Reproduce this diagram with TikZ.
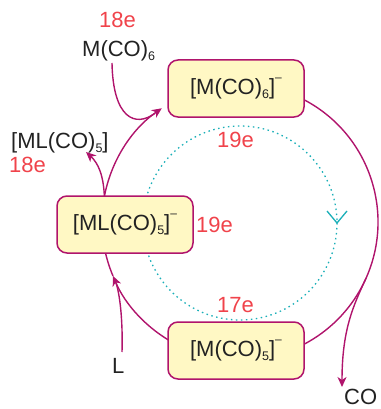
\documentclass[tikz,border=0pt]{standalone}
\usepackage{fontspec}
\setmainfont{Liberation Sans}
\usetikzlibrary{arrows.meta,calc}
\definecolor{mag}{HTML}{B0146C}
\definecolor{boxfill}{HTML}{FFF8C4}
\definecolor{ered}{HTML}{F0434B}
\definecolor{cyn}{HTML}{1AAFB8}
\definecolor{ink}{HTML}{222222}
\newcommand{\sbs}[1]{\raisebox{-4pt}{\fontsize{12.5}{12.5}\selectfont #1}}
\newcommand{\sps}{\raisebox{13pt}{\fontsize{12}{12}\selectfont\textendash}}
\begin{document}
\begin{tikzpicture}[x=1pt,y=-1pt,font=\fontsize{22}{24}\selectfont,
  box/.style={draw=mag,fill=boxfill,line width=1.5pt,rounded corners=10pt,minimum width=136pt,minimum height=57pt,inner sep=0pt,text=ink},
  conn/.style={draw=mag,line width=1.4pt},
  tipped/.style={-{Stealth[length=10pt,width=9pt,inset=3pt]}},
  lbl/.style={text=ink,inner sep=0pt,anchor=base west},
  el/.style={text=ered,inner sep=0pt,anchor=base west},
  dots/.style={draw=cyn,line width=1.3pt,dash pattern=on 1.5pt off 3.5pt}]
\useasboundingbox (0,0) rectangle (380,409);
\coordinate (O) at (240,222);
\coordinate (C2) at (240,223);
% dotted inner cycle
\draw[dots] (C2) circle[radius=97];
\coordinate (vt) at ($(C2)+(0:97)$);
\draw[cyn,line width=1.3pt] ($(vt)+(-10,-12)$) -- (vt) -- ($(vt)+(10,-12)$);
% main cycle arcs
\draw[conn] ($(O)+(-62:138)$) arc[start angle=-62,end angle=62,radius=138];
\draw[conn,tipped] ($(O)+(118:138)$) arc[start angle=118,end angle=157,radius=138];
\draw[conn] ($(O)+(157:138)$) arc[start angle=157,end angle=170,radius=138];
\draw[conn,tipped] ($(O)+(190:138)$) arc[start angle=190,end angle=235.5,radius=138];
% branch to [ML(CO)5]
\coordinate (bs) at (104.5,200);
\coordinate (bt) at (86,152);
\draw[conn,tipped] (bs) .. controls (104,175) and (98,163) .. (bt);
% boxes
\node[box] (b1) at (236,88.5) {[M(CO)\sbs{6}]\sps};
\node[box] (b2) at (125,224.5) {[ML(CO)\sbs{5}]\sps};
\node[box] (b3) at (236,350.5) {[M(CO)\sbs{5}]\sps};
% labels
\node[el] (e1) at (99,28) {18e};
\node[lbl] (mco6) at (82,57) {M(CO)\sbs{6}};
\node[lbl] (mlco5) at (11,148) {[ML(CO)\sbs{5}]};
\node[el] (e2) at (9,172) {18e};
\node[el] (e3) at (217,147) {19e};
\node[el] (e4) at (196,232) {19e};
\node[el] (e5) at (217,312) {17e};
\node[lbl] (L) at (112,373) {L};
\node[lbl] (co) at (344,404) {CO};
% incoming / outgoing branches
\coordinate (m6) at (112,63);
\draw[conn] (m6) .. controls (113,118) and (135,128) .. ($(O)+(232:138)$);
\coordinate (lb) at (122,352);
\draw[conn] (lb) .. controls (123,315) and (119,292) .. ($(O)+(154:138)$);
\coordinate (cob) at ($(O)+(24:138)$);
\coordinate (coe) at (342,387);
\draw[conn,tipped] (cob) .. controls ($(cob)+(-13,28)$) and (342,330) .. (coe);
\end{tikzpicture}
\end{document}
